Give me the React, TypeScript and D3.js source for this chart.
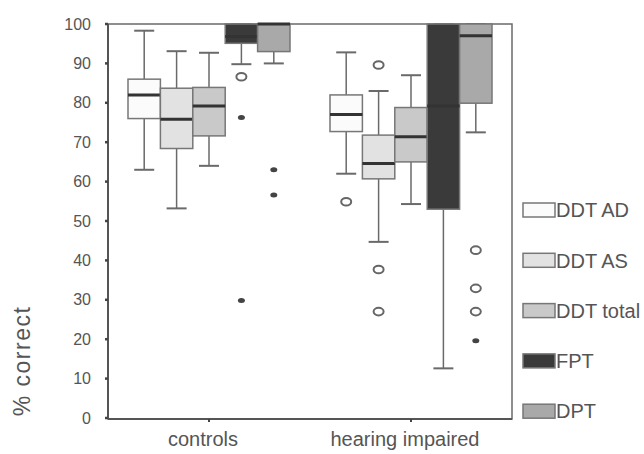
import React from 'react';
import * as d3 from 'd3';

const categories = ['controls', 'hearing impaired'];
const series = ['DDT AD', 'DDT AS', 'DDT total', 'FPT', 'DPT'];
const fills = ['#fbfbfb', '#e2e2e2', '#c9c9c9', '#3a3a3a', '#a9a9a9'];
const yTicks = [0, 10, 20, 30, 40, 50, 60, 70, 80, 90, 100];

// [min, q1, median, q3, max] for controls, hearing impaired
const ddtAd = [[63, 76, 82, 86, 98.3], [62, 72.7, 77, 82, 92.8]];
const ddtAs = [[53.2, 68.4, 75.8, 83.7, 93.1], [44.7, 60.7, 64.6, 71.8, 83]];
const ddtTotal = [[64, 71.6, 79.2, 83.9, 92.7], [54.3, 65, 71.4, 78.8, 87]];
const fpt = [[89.8, 95.1, 96.8, 100, 100], [12.6, 53, 79.2, 100, 100]];
const dpt = [[90, 93, 100, 100, 100], [72.5, 79.9, 97, 100, 100]];
const boxes = [ddtAd, ddtAs, ddtTotal, fpt, dpt];

// outliers: o = circle, * = extreme
const outliers = [
  { cat: 0, s: 3, v: 86.6, kind: 'o' },
  { cat: 0, s: 3, v: 76.3, kind: '*' },
  { cat: 0, s: 3, v: 29.8, kind: '*' },
  { cat: 0, s: 4, v: 63, kind: '*' },
  { cat: 0, s: 4, v: 56.6, kind: '*' },
  { cat: 1, s: 0, v: 54.9, kind: 'o' },
  { cat: 1, s: 1, v: 89.6, kind: 'o' },
  { cat: 1, s: 1, v: 37.7, kind: 'o' },
  { cat: 1, s: 1, v: 27, kind: 'o' },
  { cat: 1, s: 4, v: 42.6, kind: 'o' },
  { cat: 1, s: 4, v: 32.9, kind: 'o' },
  { cat: 1, s: 4, v: 27, kind: 'o' },
  { cat: 1, s: 4, v: 19.6, kind: '*' },
];

const W = 644;
const H = 454;
const left = 108, right = 512, top = 24, bottom = 418;
const ink = '#6a6a6a';
const textCol = '#555';
const font = 'Liberation Sans, Arial, sans-serif';

export default function App() {
  const y = d3.scaleLinear().domain([0, 100]).range([bottom, top]);
  const x = d3.scaleBand().domain(categories).range([left, right]);
  const groupW = 162;
  const inner = d3.scaleBand().domain(series).range([0, groupW]);
  const bw = inner.bandwidth();
  const boxX = (c: number, s: number) =>
    (x(categories[c]) as number) + x.bandwidth() / 2 - groupW / 2 + (inner(series[s]) as number);

  return (
    <svg width={W} height={H} style={{ position: 'absolute', left: 0, top: 0, background: '#fff' }}>
      {/* frame */}
      <rect x={left} y={top} width={right - left} height={bottom + 1 - top} fill="none" stroke={ink} strokeWidth={1.5} />
      <line x1={left} x2={left} y1={top} y2={bottom + 1} stroke="#555" strokeWidth={2} />
      <line x1={left} x2={right} y1={bottom + 1} y2={bottom + 1} stroke="#555" strokeWidth={2} />

      {/* y ticks */}
      {yTicks.map((t) => (
        <g key={t}>
          <line x1={left - 3} x2={left} y1={y(t)} y2={y(t)} stroke="#444" strokeWidth={2.5} />
          <text x={91} y={y(t)} dy="0.35em" textAnchor="end" fontSize={16} fontFamily={font} fill={textCol}>
            {t}
          </text>
        </g>
      ))}

      {/* x ticks and labels */}
      {categories.map((c) => {
        const cx = (x(c) as number) + x.bandwidth() / 2;
        return (
          <g key={c}>
            <line x1={cx} x2={cx} y1={bottom + 1} y2={bottom + 4} stroke="#444" strokeWidth={2} />
            <text x={cx - 6} y={446} textAnchor="middle" fontSize={20} fontFamily={font} fill={textCol}>
              {c}
            </text>
          </g>
        );
      })}

      <text
        transform={`translate(30,361) rotate(-90)`}
        textAnchor="middle"
        fontSize={23}
        letterSpacing={1.5}
        fontFamily={font}
        fill={textCol}
      >
        % correct
      </text>

      {/* boxes */}
      {boxes.map((b, s) =>
        b.map((q, c) => {
          const [mn, q1, md, q3, mx] = q;
          const bx = boxX(c, s);
          const cx = bx + bw / 2;
          return (
            <g key={`${s}-${c}`}>
              <line x1={cx} x2={cx} y1={y(mx)} y2={y(q3)} stroke={ink} strokeWidth={1.5} />
              <line x1={cx} x2={cx} y1={y(q1)} y2={y(mn)} stroke={ink} strokeWidth={1.5} />
              <line x1={cx - 10} x2={cx + 10} y1={y(mx)} y2={y(mx)} stroke={ink} strokeWidth={2} />
              <line x1={cx - 10} x2={cx + 10} y1={y(mn)} y2={y(mn)} stroke={ink} strokeWidth={2} />
              <rect x={bx} y={y(q3)} width={bw} height={y(q1) - y(q3)} fill={fills[s]} stroke="#777" strokeWidth={1.5} />
              <line x1={bx} x2={bx + bw} y1={y(md)} y2={y(md)} stroke="#333" strokeWidth={3} />
            </g>
          );
        })
      )}

      {/* outliers */}
      {outliers.map((o, i) => {
        const cx = boxX(o.cat, o.s) + bw / 2;
        return o.kind === 'o' ? (
          <ellipse key={i} cx={cx} cy={y(o.v)} rx={5} ry={3.8} fill="none" stroke="#666" strokeWidth={2} />
        ) : (
          <ellipse key={i} cx={cx} cy={y(o.v)} rx={3.5} ry={2.5} fill="#444" />
        );
      })}

      {/* legend */}
      {series.map((s, i) => {
        const ly = 210 + i * 50.3;
        return (
          <g key={s}>
            <rect x={523} y={ly - 7} width={32} height={14} fill={fills[i]} stroke="#777" strokeWidth={1.5} />
            <text x={556} y={ly} dy="0.36em" fontSize={20} fontFamily={font} fill={textCol}>
              {s}
            </text>
          </g>
        );
      })}
    </svg>
  );
}
